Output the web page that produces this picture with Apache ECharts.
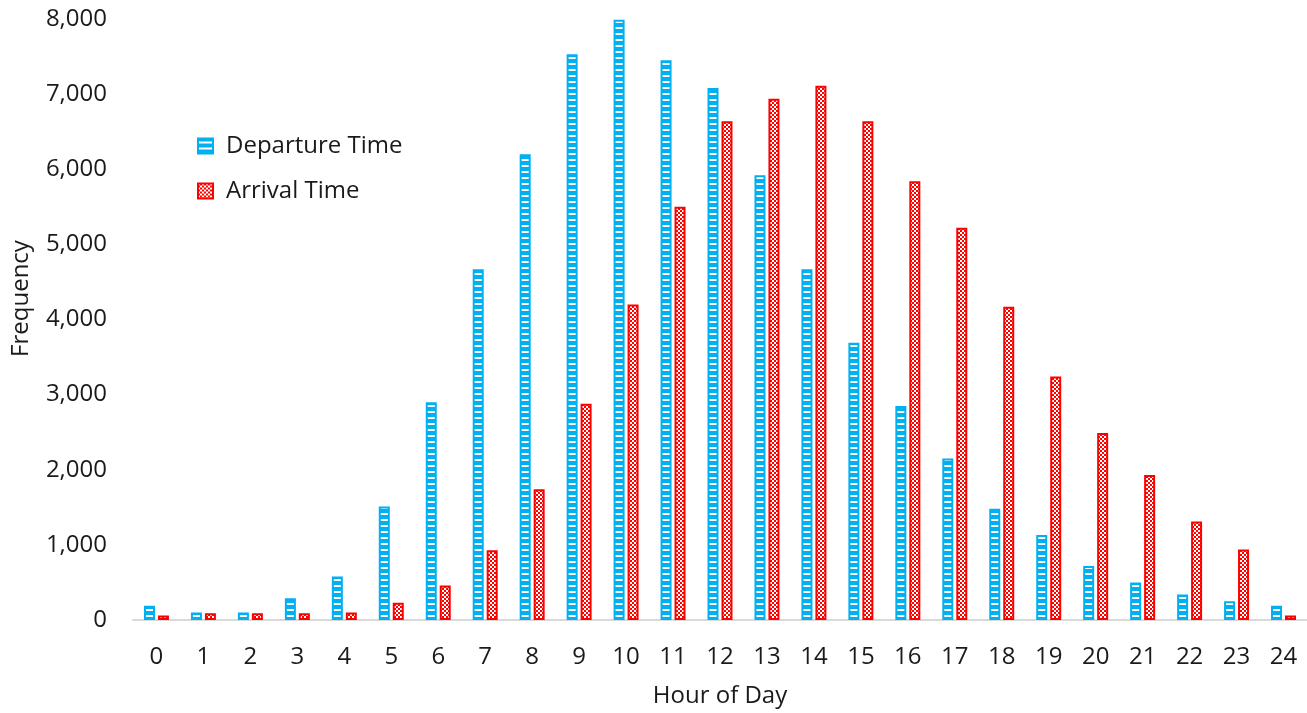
<!DOCTYPE html>
<html>
<head>
<meta charset="utf-8">
<script src="https://cdn.jsdelivr.net/npm/echarts@6/dist/echarts.min.js"></script>
<style>
  html, body { margin: 0; padding: 0; background: #fff; }
  #chart { width: 1307px; height: 713px; }
</style>
</head>
<body>
<div id="chart"></div>
<script>
// Hour-of-day histogram of trip departures and arrivals
const hours = ['0','1','2','3','4','5','6','7','8','9','10','11','12','13','14','15','16','17','18','19','20','21','22','23','24'];
const departureTime = [190, 100, 100, 290, 580, 1510, 2900, 4670, 6200, 7530, 7990, 7450, 7080, 5920, 4670, 3690, 2850, 2150, 1480, 1130, 720, 500, 340, 250, 190];
const arrivalTime = [60, 90, 90, 90, 100, 230, 460, 930, 1740, 2880, 4200, 5500, 6640, 6940, 7110, 6640, 5840, 5220, 4170, 3240, 2490, 1930, 1310, 940, 60];
const yTicks = [0, 1000, 2000, 3000, 4000, 5000, 6000, 7000, 8000];

const BLUE = '#00B0F0';
const RED = '#FF0000';
const INK = '#1a1a1a';
const FONT = '"Open Sans", "Noto Sans", sans-serif';
const FS = 24;

// horizontal-stripe fill for departures
function stripePattern() {
  const c = document.createElement('canvas');
  c.width = 4; c.height = 6;
  const g = c.getContext('2d');
  g.fillStyle = BLUE; g.fillRect(0, 0, 4, 6);
  g.fillStyle = '#ffffff'; g.fillRect(0, 3, 4, 2);
  return c;
}
// small checkerboard fill for arrivals
function checkerPattern() {
  const c = document.createElement('canvas');
  c.width = 4; c.height = 4;
  const g = c.getContext('2d');
  g.fillStyle = RED; g.fillRect(0, 0, 4, 4);
  g.fillStyle = '#ffffff';
  g.fillRect(0, 0, 2, 2); g.fillRect(2, 2, 2, 2);
  return c;
}

const chart = echarts.init(document.getElementById('chart'));
chart.setOption({
  animation: false,
  backgroundColor: '#ffffff',
  textStyle: { fontFamily: FONT },
  grid: { left: 133, right: 0, top: 19, bottom: 93, containLabel: false, outerBoundsMode: 'none' },
  legend: {
    orient: 'vertical',
    left: 192, top: 128,
    icon: 'rect',
    itemWidth: 15, itemHeight: 15, itemGap: 19,
    textStyle: { fontSize: FS, lineHeight: 26, color: INK, fontFamily: FONT, padding: [0, 0, 0, 8] },
    data: ['Departure Time', 'Arrival Time']
  },
  xAxis: {
    type: 'category',
    data: hours,
    name: 'Hour of Day',
    nameLocation: 'middle',
    nameGap: 64,
    nameTextStyle: { fontSize: FS, color: INK },
    axisLine: { lineStyle: { color: '#d9d9d9', width: 2 } },
    axisTick: { show: false },
    axisLabel: { fontSize: FS, color: INK, margin: 25 }
  },
  yAxis: {
    type: 'value',
    min: yTicks[0], max: yTicks[yTicks.length - 1], interval: 1000,
    name: 'Frequency',
    nameLocation: 'middle',
    nameGap: 100,
    nameRotate: 90,
    nameTextStyle: { fontSize: FS, color: INK, padding: [0, 0, 0, 42] },
    axisLine: { show: false },
    axisTick: { show: false },
    splitLine: { show: false },
    axisLabel: {
      fontSize: FS, color: INK, margin: 26,
      formatter: v => v.toLocaleString('en-US')
    }
  },
  series: [
    {
      name: 'Departure Time',
      type: 'bar',
      data: departureTime,
      barWidth: 11,
      barGap: '27%',
      itemStyle: { color: { image: stripePattern(), repeat: 'repeat' }, borderColor: BLUE, borderWidth: 2 }
    },
    {
      name: 'Arrival Time',
      type: 'bar',
      data: arrivalTime,
      barWidth: 11,
      barGap: '27%',
      itemStyle: { color: { image: checkerPattern(), repeat: 'repeat' }, borderColor: RED, borderWidth: 2 }
    }
  ]
});
</script>
</body>
</html>
